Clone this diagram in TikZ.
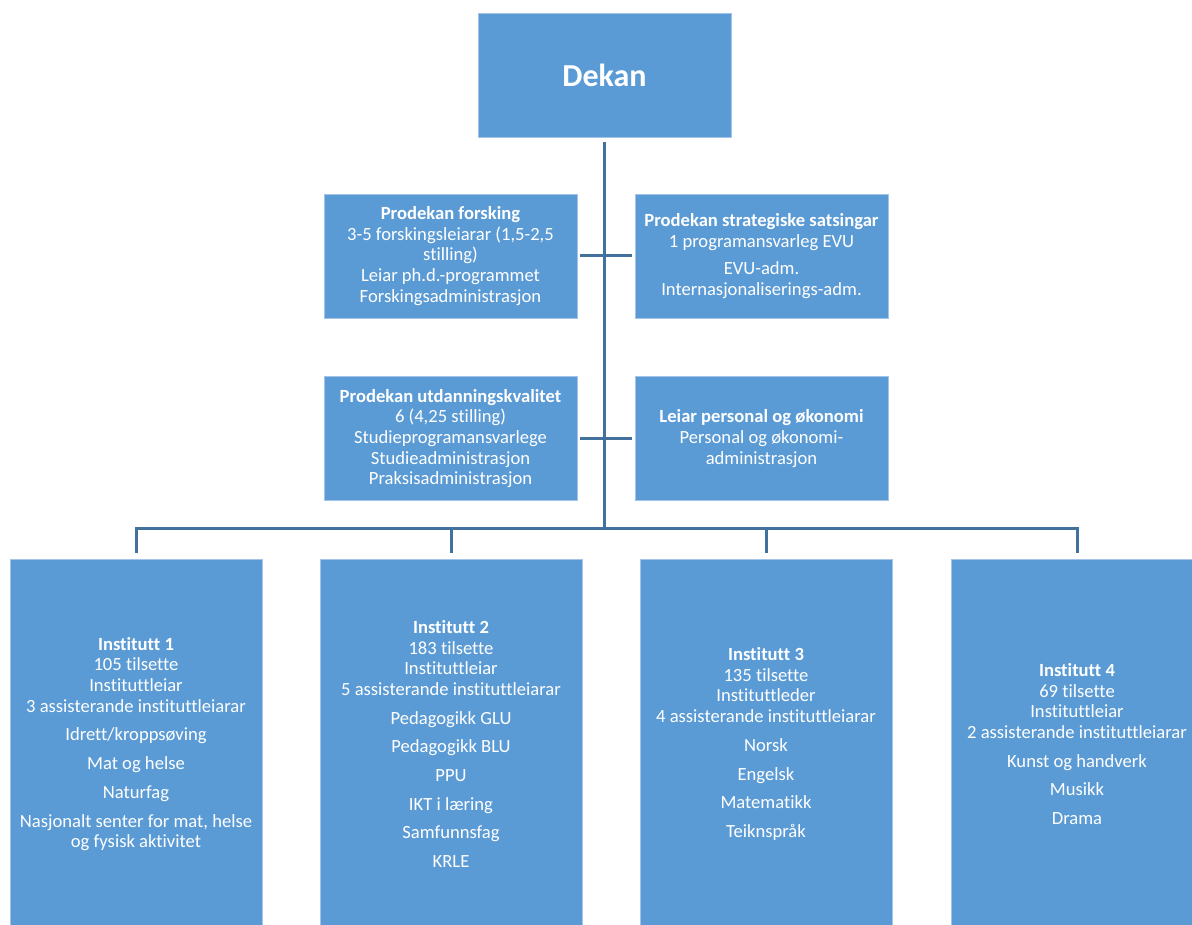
\documentclass[tikz,border=0pt]{standalone}
\usepackage{fontspec}
\setmainfont{Carlito}[Ligatures=NoCommon]
\definecolor{boxblue}{HTML}{5B9BD5}
\definecolor{boxrim}{HTML}{A3C4E8}
\definecolor{linkblue}{HTML}{41719C}

\begin{document}
\begin{tikzpicture}[
      x=1pt, y=-1pt,
      unit/.style={rectangle, fill=boxblue, draw=boxrim, line width=0.6pt, text=white, align=center,
        inner sep=2pt, minimum width=253pt, minimum height=124pt,
        font=\fontsize{18.6}{20.7}\selectfont},                      % boxes for the dean's office
      dept/.style={unit, minimum width=252pt, minimum height=370pt},  % the four institutes
      link/.style={draw=linkblue, line width=3pt}                      % connecting lines
    ]
    \useasboundingbox (0,0) rectangle (1192,925);

    \node[unit, font=\fontsize{32}{38}\selectfont\bfseries] (dekan) at (604.5,75) {Dekan};

    \node[unit] (forsk) at (450.5,256) {\textbf{Prodekan forsking}\\
        3-5 forskingsleiarar (1,5-2,5\\ stilling)\\ Leiar ph.d.-programmet\\ Forskingsadministrasjon};
    \node[unit] (strat) at (761.5,256) {\textbf{Prodekan strategiske satsingar}\\
        1 programansvarleg EVU\\[7pt] EVU-adm.\\ Internasjonaliserings-adm.};
    \node[unit] (utdan) at (450.5,438.5) {\textbf{Prodekan utdanningskvalitet}\\
        6 (4,25 stilling)\\ Studieprogramansvarlege\\ Studieadministrasjon\\ Praksisadministrasjon};
    \node[unit] (perso) at (761.5,438.5) {\textbf{Leiar personal og økonomi}\\
        Personal og økonomi-\\ administrasjon};

    \node[dept] (inst1) at (136,744) {\textbf{Institutt 1}\\ 105 tilsette\\ Instituttleiar\\
        3 assisterande instituttleiarar\\[8pt] Idrett/kroppsøving\\[8pt] Mat og helse\\[8pt]
        Naturfag\\[8pt] Nasjonalt senter for mat, helse\\ og fysisk aktivitet};
    \node[dept, minimum width=262pt] (inst2) at (451,744) {\textbf{Institutt 2}\\ 183 tilsette\\
        Instituttleiar\\ 5 assisterande instituttleiarar\\[8pt] Pedagogikk GLU\\[8pt]
        Pedagogikk BLU\\[8pt] PPU\\[8pt] IKT i læring\\[8pt] Samfunnsfag\\[8pt] KRLE};
    \node[dept] (inst3) at (766,744) {\textbf{Institutt 3}\\ 135 tilsette\\ Instituttleder\\
        4 assisterande instituttleiarar\\[8pt] Norsk\\[8pt] Engelsk\\[8pt] Matematikk\\[8pt] Teiknspråk};
    \node[dept] (inst4) at (1077,744) {\textbf{Institutt 4}\\ 69 tilsette\\ Instituttleiar\\
        2 assisterande instituttleiarar\\[8pt] Kunst og handverk\\[8pt] Musikk\\[8pt] Drama};

    % lines
    \coordinate (bus) at (604.5,528);
    \draw[link] ([yshift=-5pt]dekan.south) -- (bus);
    \draw[link] ([xshift=3pt]forsk.east) -- ([xshift=-3pt]strat.west);
    \draw[link] ([xshift=3pt]utdan.east) -- ([xshift=-3pt]perso.west);
    \draw[link] ([yshift=6pt]inst1.north) |- (bus) -| ([yshift=6pt]inst4.north);
    \draw[link] (bus -| inst2.north) -- ([yshift=6pt]inst2.north);
    \draw[link] (bus -| inst3.north) -- ([yshift=6pt]inst3.north);
\end{tikzpicture}
\end{document}
